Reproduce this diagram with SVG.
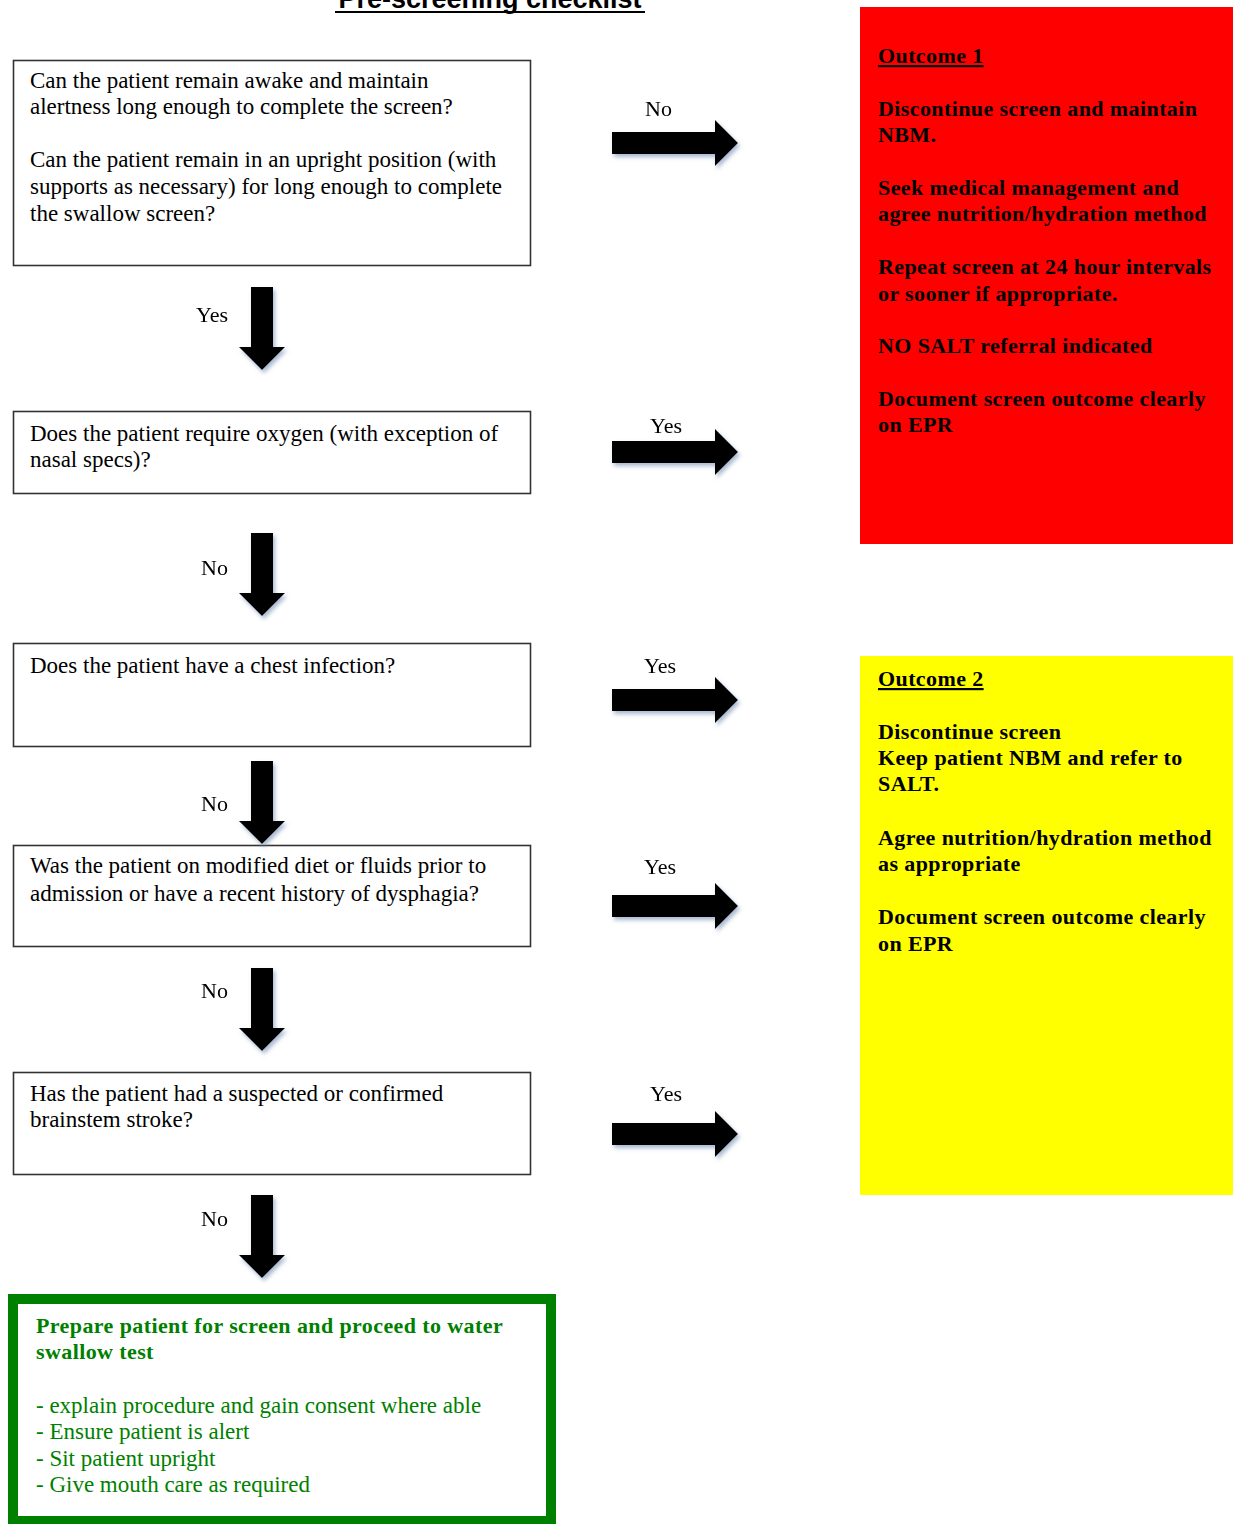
<svg xmlns="http://www.w3.org/2000/svg" xmlns:xlink="http://www.w3.org/1999/xlink" width="1239" height="1524" viewBox="0 0 1239 1524">
<style>
.q{fill:#fff;stroke:#333;stroke-width:1.6}
.t{font-family:"Liberation Serif","Times New Roman",serif;font-size:23px;fill:#000}
.b{font-family:"Liberation Serif","Times New Roman",serif;font-size:22px;font-weight:bold;letter-spacing:0.4px;fill:#000}
.g{font-family:"Liberation Serif","Times New Roman",serif;font-size:23px;fill:#008000}
.gb{font-weight:bold;font-size:22px;letter-spacing:0.4px}
.lbl{font-family:"Liberation Serif","Times New Roman",serif;font-size:22px;fill:#000}
.ttl{font-family:"Liberation Sans",Arial,sans-serif;font-size:27px;font-weight:bold;fill:#000}
</style>
<defs>
<filter id="sh" x="-30%" y="-30%" width="160%" height="160%">
<feDropShadow dx="2" dy="3" stdDeviation="2" flood-color="#6d86ad" flood-opacity="0.6"/>
</filter>
<path id="ra" d="M0,-11 H103 V-23 L126,0 L103,23 V11 H0 Z" fill="#000"/>
<path id="da" d="M-11,0 H11 V60 H23 L0,83 L-23,60 H-11 Z" fill="#000"/>
</defs>
<rect width="1239" height="1524" fill="#fff"/>
<g id="title">
<text class="ttl" x="490" y="8" text-anchor="middle">Pre-screening checklist</text>
<line x1="335" y1="12" x2="645" y2="12" stroke="#000" stroke-width="2"/>
</g>
<g id="q1">
<rect class="q" x="13.5" y="60.5" width="517" height="205"/>
<text class="t" x="30" y="88">Can the patient remain awake and maintain</text>
<text class="t" x="30" y="114">alertness long enough to complete the screen?</text>
<text class="t" x="30" y="167">Can the patient remain in an upright position (with</text>
<text class="t" x="30" y="194">supports as necessary) for long enough to complete</text>
<text class="t" x="30" y="221">the swallow screen?</text>
</g>
<g id="q2">
<rect class="q" x="13.5" y="411.5" width="517" height="82"/>
<text class="t" x="30" y="441">Does the patient require oxygen (with exception of</text>
<text class="t" x="30" y="467">nasal specs)?</text>
</g>
<g id="q3">
<rect class="q" x="13.5" y="643.5" width="517" height="103"/>
<text class="t" x="30" y="673">Does the patient have a chest infection?</text>
</g>
<g id="q4">
<rect class="q" x="13.5" y="845.5" width="517" height="101"/>
<text class="t" x="30" y="873">Was the patient on modified diet or fluids prior to</text>
<text class="t" x="30" y="901">admission or have a recent history of dysphagia?</text>
</g>
<g id="q5">
<rect class="q" x="13.5" y="1072.5" width="517" height="102"/>
<text class="t" x="30" y="1101">Has the patient had a suspected or confirmed</text>
<text class="t" x="30" y="1127">brainstem stroke?</text>
</g>
<g id="proceed">
<rect x="13" y="1299" width="538" height="222" fill="#fff" stroke="#008000" stroke-width="10"/>
<text class="g gb" x="36" y="1333">Prepare patient for screen and proceed to water</text>
<text class="g gb" x="36" y="1359">swallow test</text>
<text class="g" x="36" y="1413">- explain procedure and gain consent where able</text>
<text class="g" x="36" y="1439">- Ensure patient is alert</text>
<text class="g" x="36" y="1466">- Sit patient upright</text>
<text class="g" x="36" y="1492">- Give mouth care as required</text>
</g>
<g id="outcome1">
<rect x="860" y="7" width="373" height="537" fill="#ff0000"/>
<text class="b" x="878" y="63" text-decoration="underline">Outcome 1</text>
<text class="b" x="878" y="116">Discontinue screen and maintain</text>
<text class="b" x="878" y="142">NBM.</text>
<text class="b" x="878" y="195">Seek medical management and</text>
<text class="b" x="878" y="221">agree nutrition/hydration method</text>
<text class="b" x="878" y="274">Repeat screen at 24 hour intervals</text>
<text class="b" x="878" y="301">or sooner if appropriate.</text>
<text class="b" x="878" y="353">NO SALT referral indicated</text>
<text class="b" x="878" y="406">Document screen outcome clearly</text>
<text class="b" x="878" y="432">on EPR</text>
</g>
<g id="outcome2">
<rect x="860" y="656" width="373" height="539" fill="#ffff00"/>
<text class="b" x="878" y="686" text-decoration="underline">Outcome 2</text>
<text class="b" x="878" y="739">Discontinue screen</text>
<text class="b" x="878" y="765">Keep patient NBM and refer to</text>
<text class="b" x="878" y="791">SALT.</text>
<text class="b" x="878" y="845">Agree nutrition/hydration method</text>
<text class="b" x="878" y="871">as appropriate</text>
<text class="b" x="878" y="924">Document screen outcome clearly</text>
<text class="b" x="878" y="951">on EPR</text>
</g>
<g id="connectors" filter="url(#sh)">
<use xlink:href="#da" x="262" y="287"/>
<use xlink:href="#da" x="262" y="533"/>
<use xlink:href="#da" x="262" y="761"/>
<use xlink:href="#da" x="262" y="968"/>
<use xlink:href="#da" x="262" y="1195"/>
<use xlink:href="#ra" x="612" y="143"/>
<use xlink:href="#ra" x="612" y="452"/>
<use xlink:href="#ra" x="612" y="700"/>
<use xlink:href="#ra" x="612" y="906"/>
<use xlink:href="#ra" x="612" y="1134"/>
</g>
<g id="labels">
<text class="lbl" x="196" y="322">Yes</text>
<text class="lbl" x="201" y="575">No</text>
<text class="lbl" x="201" y="811">No</text>
<text class="lbl" x="201" y="998">No</text>
<text class="lbl" x="201" y="1226">No</text>
<text class="lbl" x="645" y="116">No</text>
<text class="lbl" x="650" y="433">Yes</text>
<text class="lbl" x="644" y="673">Yes</text>
<text class="lbl" x="644" y="874">Yes</text>
<text class="lbl" x="650" y="1101">Yes</text>
</g>
</svg>
